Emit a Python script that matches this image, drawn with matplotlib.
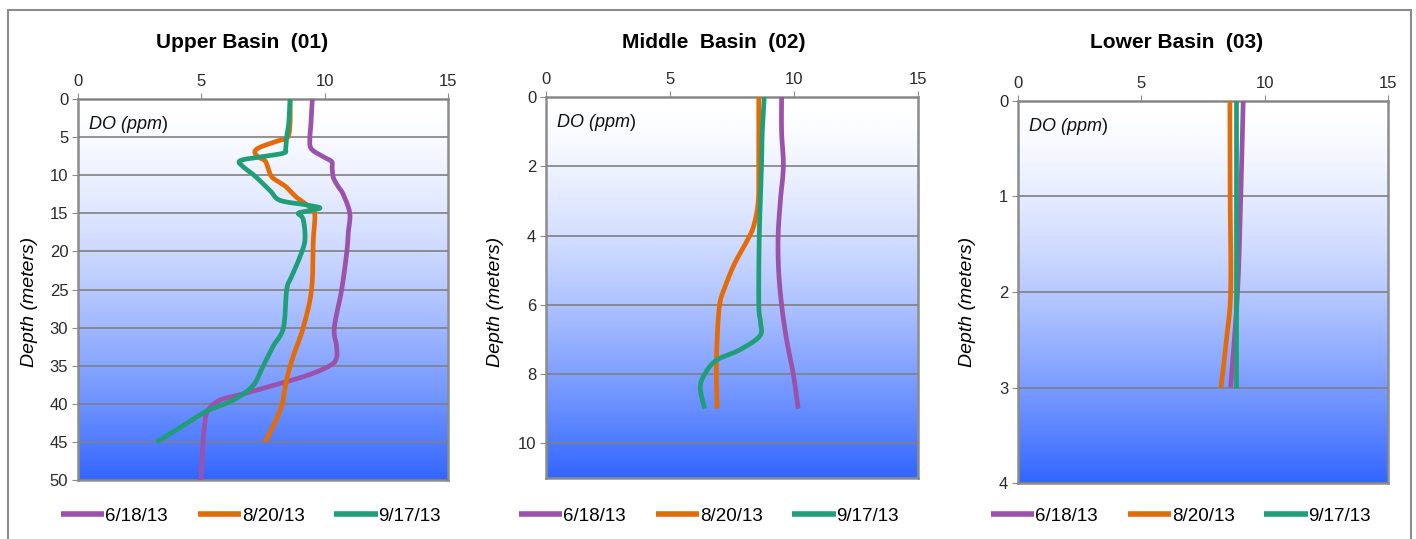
import numpy as np
import matplotlib
matplotlib.use('Agg')
import matplotlib.pyplot as plt
from matplotlib.colors import LinearSegmentedColormap
from matplotlib.patches import Rectangle

plt.rcParams['font.family'] = ['Liberation Sans', 'DejaVu Sans']

# Dados (DO em ppm vs profundidade em metros)
dates = ['6/18/13', '8/20/13', '9/17/13']
colors = ['#9a52ab', '#e36c09', '#1f9e78']

# Upper Basin (01)
up_618_depth = [0, 3, 5, 6.5, 7.5, 8.2, 9, 10.3, 11.5, 12.5, 15, 17.4, 20, 25, 30,
                32.4, 34, 35, 36.3, 37.6, 38.7, 39.5, 40.8, 42.3, 45, 50]
up_618_do = [9.5, 9.45, 9.4, 9.45, 9.9, 10.28, 10.3, 10.35, 10.55, 10.75, 11.02, 10.96,
             10.9, 10.69, 10.39, 10.48, 10.48, 10.21, 9.27, 7.9, 6.7, 5.76, 5.28, 5.15,
             5.07, 4.98]
up_820_depth = [0, 3, 5, 5.5, 6.3, 6.9, 7.6, 8.1, 9, 10.2, 11, 11.6, 12.9, 14.2, 15.2,
                18.5, 25, 30, 33.7, 36.8, 40.2, 43, 45]
up_820_do = [8.6, 8.6, 8.5, 8.1, 7.4, 7.17, 7.3, 7.58, 7.7, 7.85, 8.2, 8.46, 8.86, 9.4,
             9.6, 9.54, 9.47, 9.13, 8.73, 8.46, 8.26, 7.9, 7.58]
up_917_depth = [0, 3, 5, 6.5, 7.1, 7.6, 8.1, 8.9, 10.1, 12, 13.3, 13.9, 14.3, 14.7, 15,
                15.8, 18.5, 20.7, 23.3, 25, 30, 32.4, 35, 37.6, 39.5, 41, 43, 45]
up_917_do = [8.6, 8.55, 8.46, 8.42, 8.33, 7.4, 6.57, 6.7, 7.17, 7.78, 8.19, 9.27, 9.81,
             9.3, 8.93, 9.13, 9.2, 9.0, 8.66, 8.46, 8.33, 7.92, 7.51, 7.1, 6.3, 5.2,
             4.2, 3.19]

# Middle Basin (02)
mid_618_depth = [0, 1, 2, 3, 4, 5, 6, 7, 8, 9]
mid_618_do = [9.5, 9.5, 9.57, 9.45, 9.36, 9.38, 9.5, 9.7, 9.97, 10.17]
mid_820_depth = [0, 1, 2, 3, 3.6, 4, 4.8, 5.5, 6, 7, 8, 9]
mid_820_do = [8.58, 8.58, 8.58, 8.56, 8.42, 8.22, 7.61, 7.21, 7.0, 6.9, 6.87, 6.9]
mid_917_depth = [0, 1, 2, 4, 6, 6.5, 6.9, 7.3, 7.6, 8, 8.4, 9]
mid_917_do = [8.8, 8.72, 8.69, 8.6, 8.58, 8.65, 8.62, 7.81, 6.87, 6.4, 6.22, 6.4]

# Lower Basin (03)
low_618_depth = [0, 1, 2, 3]
low_618_do = [9.13, 9.03, 8.9, 8.62]
low_820_depth = [0, 1, 2, 2.5, 3]
low_820_do = [8.59, 8.6, 8.62, 8.45, 8.23]
low_917_depth = [0, 1, 2, 3]
low_917_do = [8.82, 8.82, 8.82, 8.82]

panels = [
    dict(title='Upper Basin  (01)', ymax=50, yticks=np.arange(0, 51, 5),
         series=[(up_618_do, up_618_depth), (up_820_do, up_820_depth), (up_917_do, up_917_depth)],
         rect=[78, 99, 448, 480], title_x=242, ylabel_x=30, leg_x=251),
    dict(title='Middle  Basin  (02)', ymax=11, yticks=np.arange(0, 11, 2),
         series=[(mid_618_do, mid_618_depth), (mid_820_do, mid_820_depth), (mid_917_do, mid_917_depth)],
         rect=[546, 97, 918, 478], title_x=714, ylabel_x=496, leg_x=709),
    dict(title='Lower Basin  (03)', ymax=4, yticks=np.arange(0, 5, 1),
         series=[(low_618_do, low_618_depth), (low_820_do, low_820_depth), (low_917_do, low_917_depth)],
         rect=[1018, 101, 1388, 483], title_x=1177, ylabel_x=968, leg_x=1181),
]


def suavizar(x, y, n=12):
    # curva suave tipo Excel (Catmull-Rom) passando pelos pontos lidos
    p = np.column_stack([x, y]).astype(float)
    if len(p) < 3:
        return p[:, 0], p[:, 1]
    p = np.vstack([p[0], p, p[-1]])
    out = []
    t = np.linspace(0, 1, n, endpoint=False)[:, None]
    for i in range(1, len(p) - 2):
        p0, p1, p2, p3 = p[i - 1], p[i], p[i + 1], p[i + 2]
        seg = 0.5 * ((2 * p1) + (-p0 + p2) * t + (2 * p0 - 5 * p1 + 4 * p2 - p3) * t ** 2
                     + (-p0 + 3 * p1 - 3 * p2 + p3) * t ** 3)
        out.append(seg)
    out.append(p[-2][None, :])
    out = np.vstack(out)
    return out[:, 0], out[:, 1]


W, H = 1416, 539
fig = plt.figure(figsize=(W / 100, H / 100), dpi=100)

# borda externa
fig.patches.append(Rectangle((8 / W, -0.1), (1411 - 8) / W, 1.1 - 10 / H,
                             transform=fig.transFigure, fill=False,
                             edgecolor='#8c8c8c', linewidth=1.5))

cmap = LinearSegmentedColormap.from_list('agua', ['#ffffff', '#3366ff'])
grad = (np.linspace(0, 1, 256) ** 1.5).reshape(-1, 1)

for p in panels:
    x0, y0, x1, y1 = p['rect']
    ax = fig.add_axes([x0 / W, 1 - y1 / H, (x1 - x0) / W, (y1 - y0) / H])
    ax.imshow(grad, aspect='auto', cmap=cmap, extent=[0, 1, 0, 1],
              origin='upper', transform=ax.transAxes, zorder=0)
    for (do, depth), c, lab in zip(p['series'], colors, dates):
        xs, ys = suavizar(do, depth)
        ax.plot(xs, ys, color=c, lw=3.4, label=lab, zorder=3,
                solid_capstyle='butt', solid_joinstyle='round')
    ax.set_xlim(0, 15)
    ax.set_ylim(p['ymax'], 0)
    ax.set_xticks([0, 5, 10, 15])
    ax.set_yticks(p['yticks'])
    ax.xaxis.tick_top()
    ax.tick_params(axis='both', labelsize=12, color='#8c8c8c', length=4,
                   labelcolor='#2a2a2a', pad=3)
    ax.yaxis.grid(True, color='#808080', linewidth=1.2, zorder=1)
    ax.set_axisbelow(False)
    for sp in ax.spines.values():
        sp.set_color('#8c8c8c')
        sp.set_linewidth(1.8)
    t = ax.text(0.03, 0.955, 'DO (ppm', transform=ax.transAxes, fontsize=13,
                style='italic', va='top', ha='left', color='#111111')
    ax.annotate(')', xy=(1, 0), xycoords=t, va='bottom', ha='left',
                fontsize=13, color='#111111')
    fig.text(p['title_x'] / W, 1 - 43 / H, p['title'], ha='center', va='center',
             fontsize=15, fontweight='bold')
    fig.text(p['ylabel_x'] / W, 1 - 302 / H, 'Depth (meters)', rotation=90,
             ha='center', va='center', fontsize=14, style='italic')
    ax.legend(loc='center', bbox_to_anchor=(p['leg_x'] / W, 1 - 516 / H),
              bbox_transform=fig.transFigure, ncol=3, frameon=False,
              fontsize=13.5, handlelength=2.3, handletextpad=0.05,
              columnspacing=1.6)
    for line in ax.get_legend().get_lines():
        line.set_linewidth(4)

fig.savefig('out.png', dpi=100)
